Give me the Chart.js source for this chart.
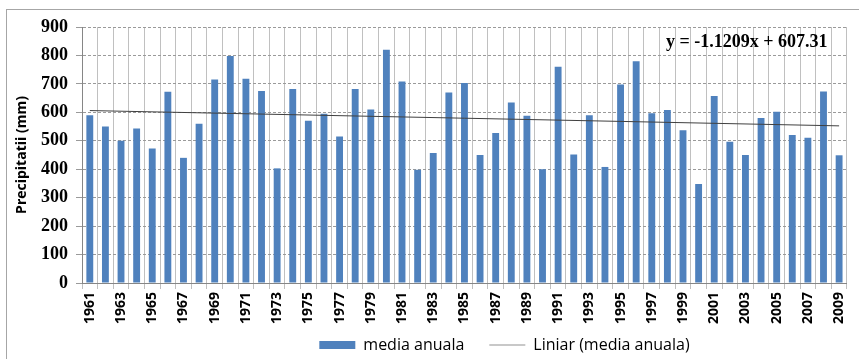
<!DOCTYPE html>
<html>
<head>
<meta charset="utf-8">
<script src="https://cdn.jsdelivr.net/npm/chart.js@4.4.1/dist/chart.umd.min.js"></script>
<style>
  html, body { margin: 0; padding: 0; background: #fff; }
  #wrap { width: 859px; height: 359px; position: relative; }
</style>
</head>
<body>
<div id="wrap"><canvas id="chart" width="859" height="359"></canvas></div>
<script>
const years = ['1961','1962','1963','1964','1965','1966','1967','1968','1969','1970',
    '1971','1972','1973','1974','1975','1976','1977','1978','1979','1980',
    '1981','1982','1983','1984','1985','1986','1987','1988','1989','1990',
    '1991','1992','1993','1994','1995','1996','1997','1998','1999','2000',
    '2001','2002','2003','2004','2005','2006','2007','2008','2009'];
const mediaAnuala = [590, 550, 500, 543, 473, 672, 440, 560, 715, 798,
    718, 675, 403, 682, 570, 595, 515, 682, 610, 820,
    708, 398, 457, 670, 703, 450, 527, 635, 588, 400,
    760, 452, 590, 408, 698, 780, 597, 608, 537, 348,
    657, 497, 450, 580, 602, 520, 511, 673, 449];
// trend line end points (y = -1.1209x + 607.31 at x=1 and x=49)
const trendPoints = [{ x: '1961', y: 606.2 }, { x: '2009', y: 552.4 }];
const trendLabel = 'y = -1.1209x + 607.31';

const frame = {
    id: 'frame',
    afterLayout(chart) {
        // move legend to where the original sits
        const lg = chart.legend;
        const h = lg.bottom - lg.top;
        lg.top = 312;
        lg.bottom = lg.top + h;
        lg.left += 40;
        lg.right += 40;
        // x labels are clipped to the scale box, so let it reach down
        chart.scales.x.bottom = 336;
    },
    beforeDraw(chart) {
        const ctx = chart.ctx;
        ctx.save();
        ctx.fillStyle = '#fff';
        ctx.fillRect(0, 0, chart.width, chart.height);
        ctx.strokeStyle = '#a6a6a6';
        ctx.lineWidth = 1;
        ctx.strokeRect(6.5, 9.5, 870, 370);
        ctx.restore();
    },
    afterDatasetsDraw(chart) {
        const ctx = chart.ctx;
        ctx.save();
        ctx.font = 'bold 18px "Liberation Serif", serif';
        ctx.fillStyle = '#000';
        ctx.textBaseline = 'middle';
        ctx.textAlign = 'left';
        ctx.fillText(trendLabel, 666, 42);
        ctx.restore();
    }
};

new Chart(document.getElementById('chart'), {
    type: 'bar',
    data: {
        labels: years,
        datasets: [
            {
                type: 'line',
                label: 'Liniar (media anuala)',
                data: trendPoints,
                borderColor: '#404040',
                borderWidth: 1,
                pointRadius: 0,
                fill: false,
                order: 0
            },
            {
                label: 'media anuala',
                data: mediaAnuala,
                backgroundColor: '#4f81bd',
                barPercentage: 0.44,
                categoryPercentage: 1,
                order: 1
            }
        ]
    },
    options: {
        responsive: false,
        animation: false,
        layout: { padding: { left: 10, right: 9, top: 27, bottom: 5 } },
        plugins: {
            legend: {
                position: 'bottom',
                fullSize: false,
                reverse: true,
                labels: {
                    font: { family: '"Open Sans", sans-serif', size: 16 },
                    color: '#000',
                    usePointStyle: true,
                    pointStyleWidth: 36,
                    boxHeight: 8,
                    padding: 25,
                    generateLabels(chart) {
                        const items = Chart.defaults.plugins.legend.labels.generateLabels(chart);
                        items.forEach(it => {
                            if (it.datasetIndex === 0) {
                                it.pointStyle = 'line';
                                it.strokeStyle = '#c8c8c8';
                                it.lineWidth = 2;
                            } else {
                                it.pointStyle = 'rect';
                                it.lineWidth = 0;
                            }
                        });
                        return items;
                    }
                }
            },
            tooltip: { enabled: false }
        },
        scales: {
            x: {
                grid: { color: '#c0c0c0', lineWidth: 1, tickLength: 6, offset: true },
                border: { color: '#868686' },
                ticks: {
                    autoSkip: false,
                    maxRotation: 90,
                    minRotation: 90,
                    color: '#000',
                    font: { family: '"Open Sans", sans-serif', size: 14, weight: 'bold' },
                    callback: (v, i) => (i % 2 === 0 ? years[i] : '')
                },
                afterFit(scale) { scale.height = 20; }
            },
            y: {
                min: 0,
                max: 900,
                ticks: {
                    stepSize: 100,
                    color: '#000',
                    padding: 8,
                    font: { family: '"Liberation Serif", serif', size: 18, weight: 'bold' }
                },
                grid: { color: '#9a9a9a', tickLength: 6 },
                border: { color: '#868686', dash: [3, 2] },
                title: {
                    display: true,
                    text: 'Precipitatii (mm)',
                    color: '#000',
                    font: { family: '"Open Sans", sans-serif', size: 14, weight: 'bold' },
                    padding: { top: 4, bottom: 0 }
                },
                afterFit(scale) { scale.width = 72; }
            }
        }
    },
    plugins: [frame]
});
</script>
</body>
</html>
